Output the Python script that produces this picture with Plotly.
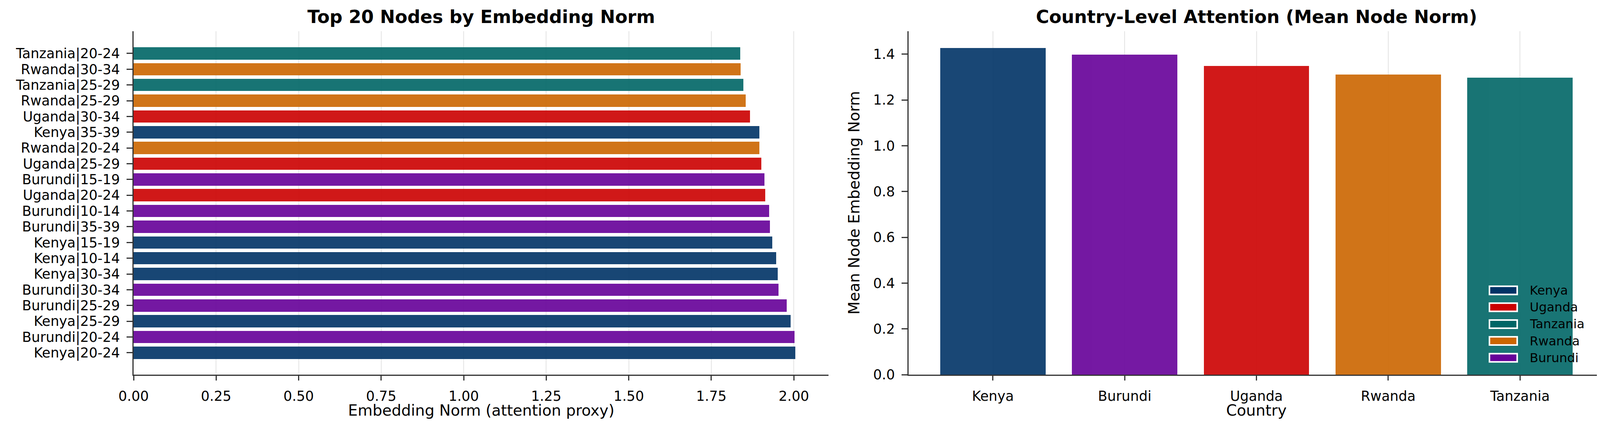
import plotly.graph_objects as go

# ---------------- data ----------------
node_labels = [
    "Kenya|20-24", "Burundi|20-24", "Kenya|25-29", "Burundi|25-29", "Burundi|30-34",
    "Kenya|30-34", "Kenya|10-14", "Kenya|15-19", "Burundi|35-39", "Burundi|10-14",
    "Uganda|20-24", "Burundi|15-19", "Uganda|25-29", "Rwanda|20-24", "Kenya|35-39",
    "Uganda|30-34", "Rwanda|25-29", "Tanzania|25-29", "Rwanda|30-34", "Tanzania|20-24",
]
node_norms = [
    2.004, 2.002, 1.990, 1.978, 1.953,
    1.951, 1.946, 1.935, 1.928, 1.925,
    1.913, 1.911, 1.902, 1.896, 1.895,
    1.867, 1.854, 1.847, 1.839, 1.837,
]
countries = ["Kenya", "Burundi", "Uganda", "Rwanda", "Tanzania"]
country_norms = [1.426, 1.397, 1.349, 1.311, 1.298]
legend_order = ["Kenya", "Uganda", "Tanzania", "Rwanda", "Burundi"]
palette = {
    "Kenya": "#003366",
    "Uganda": "#CC0000",
    "Tanzania": "#006666",
    "Rwanda": "#CC6600",
    "Burundi": "#660099",
}
left_xticks = [0.0, 0.25, 0.5, 0.75, 1.0, 1.25, 1.5, 1.75, 2.0]
right_yticks = [0.0, 0.2, 0.4, 0.6, 0.8, 1.0, 1.2, 1.4]

# ---------------- style / layout ----------------
W, H = 4132, 1089          # page (screenshot) size
OFF = 8                    # default <body> margin of the html page
FW, FH = W - OFF, H - OFF  # figure size so that it ends at the page edge
FONT = "DejaVu Sans"
AXC = "#333333"
GRID = "#e3e3e3"


def fx(px):
    return (px - OFF) / FW


def fy(py):
    return 1 - (py - OFF) / FH


L_X0, L_X1 = 342, 2121
R_X0, R_X1 = 2326, 4107
P_Y0, P_Y1 = 80, 960

node_colors = [palette[lbl.split("|")[0]] for lbl in node_labels]
country_colors = [palette[c] for c in countries]

fig = go.Figure()
fig.add_trace(go.Bar(
    x=node_norms, y=node_labels, orientation="h",
    marker=dict(color=node_colors, line=dict(width=0)), opacity=0.9,
    width=0.78, xaxis="x", yaxis="y", showlegend=False,
))
fig.add_trace(go.Bar(
    x=countries, y=country_norms,
    marker=dict(color=country_colors, line=dict(width=0)), opacity=0.9,
    width=0.8, xaxis="x2", yaxis="y2", showlegend=False,
))

tick_font = dict(family=FONT, size=35, color="black")
title_font = dict(family=FONT, size=39, color="black")
axis_common = dict(
    showline=True, linecolor=AXC, linewidth=3, mirror=False,
    ticks="outside", tickwidth=3, tickcolor=AXC,
    tickfont=tick_font, zeroline=False, automargin=False,
)

fig.update_layout(
    width=FW, height=FH,
    margin=dict(l=0, r=0, t=0, b=0),
    paper_bgcolor="white", plot_bgcolor="white",
    font=dict(family=FONT, color="black"),
    bargap=0,
    xaxis=dict(
        domain=[fx(L_X0), fx(L_X1)], anchor="y",
        range=[0, 2.105], tickvals=left_xticks, tickformat=".2f",
        showgrid=True, gridcolor=GRID, gridwidth=1.5,
        ticklen=12, ticklabelstandoff=10,
        **axis_common,
    ),
    yaxis=dict(
        domain=[fy(P_Y1), fy(P_Y0)], anchor="x",
        type="category", categoryorder="array", categoryarray=node_labels,
        tickmode="array", tickvals=node_labels, ticktext=node_labels,
        range=[-1.39, 20.41], showgrid=False,
        ticklen=15, ticklabelstandoff=10,
        **axis_common,
    ),
    xaxis2=dict(
        domain=[fx(R_X0), fx(R_X1)], anchor="y2",
        type="category", categoryorder="array", categoryarray=countries,
        range=[-0.64, 4.64],
        showgrid=True, gridcolor=GRID, gridwidth=1.5,
        ticklen=12, ticklabelstandoff=10,
        **axis_common,
    ),
    yaxis2=dict(
        domain=[fy(P_Y1), fy(P_Y0)], anchor="x2",
        range=[0, 1.5], tickvals=right_yticks, tickformat=".1f",
        showgrid=False,
        ticklen=15, ticklabelstandoff=10,
        **axis_common,
    ),
)

# subplot titles
for cx, txt in [((L_X0 + L_X1) / 2, "Top 20 Nodes by Embedding Norm"),
                ((R_X0 + R_X1) / 2, "Country-Level Attention (Mean Node Norm)")]:
    fig.add_annotation(
        text=f"<b>{txt}</b>", xref="paper", yref="paper",
        x=fx(cx), y=fy(43), xanchor="center", yanchor="middle",
        showarrow=False, font=dict(family=FONT, size=46, color="black"),
    )

# axis titles
for cx, txt in [((L_X0 + L_X1) / 2, "Embedding Norm (attention proxy)"),
                ((R_X0 + R_X1) / 2, "Country")]:
    fig.add_annotation(
        text=txt, xref="paper", yref="paper",
        x=fx(cx), y=fy(1051), xanchor="center", yanchor="middle",
        showarrow=False, font=title_font,
    )
fig.add_annotation(
    text="Mean Node Embedding Norm", xref="paper", yref="paper",
    x=fx(2186), y=fy((P_Y0 + P_Y1) / 2), xanchor="center", yanchor="middle",
    textangle=-90, showarrow=False, font=title_font,
)

# legend (patches with white edge, no frame) in lower-right of the right panel
LEG_X0, LEG_Y0, LEG_DY = 3813, 744, 43.2
PATCH_W, PATCH_H = 71, 21
for i, name in enumerate(legend_order):
    cy = LEG_Y0 + i * LEG_DY
    fig.add_shape(
        type="rect", xref="paper", yref="paper",
        x0=fx(LEG_X0), x1=fx(LEG_X0 + PATCH_W),
        y0=fy(cy + PATCH_H / 2), y1=fy(cy - PATCH_H / 2),
        fillcolor=palette[name], line=dict(color="white", width=4), layer="above",
    )
    fig.add_annotation(
        text=name, xref="paper", yref="paper",
        x=fx(3914), y=fy(cy), xanchor="left", yanchor="middle",
        showarrow=False, font=dict(family=FONT, size=32, color="black"),
    )

fig.write_html("out.html")
